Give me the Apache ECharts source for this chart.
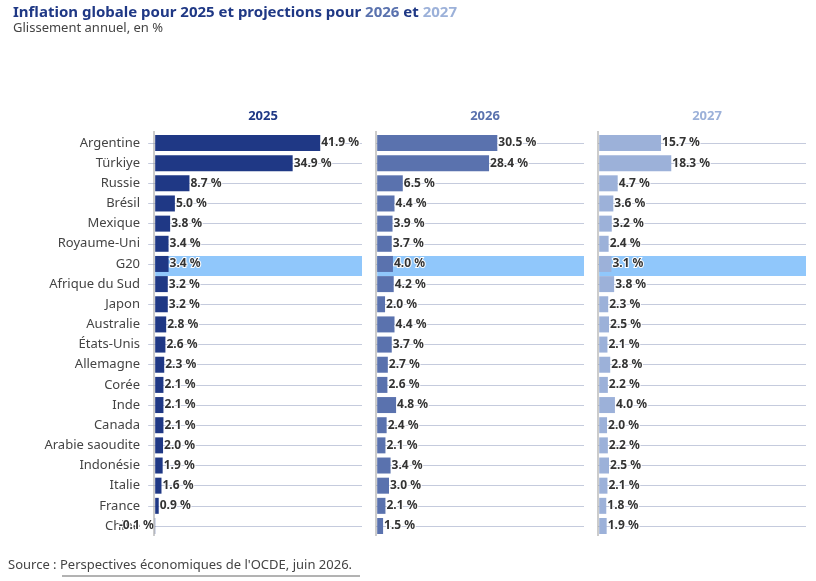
<!DOCTYPE html>
<html lang="fr">
<head>
<meta charset="UTF-8">
<title>Inflation globale</title>
<script src="https://cdn.jsdelivr.net/npm/echarts@6/dist/echarts.min.js"></script>
</head>
<body style="margin:0">
<div id="main" style="width:816px;height:581px"></div>
<script>
var countries = ['Argentine','Türkiye','Russie','Brésil','Mexique','Royaume-Uni','G20','Afrique du Sud','Japon','Australie','États-Unis','Allemagne','Corée','Inde','Canada','Arabie saoudite','Indonésie','Italie','France','Chine'];
var years = ['2025','2026','2027'];
var v2025 = [41.9,34.9,8.7,5.0,3.8,3.4,3.4,3.2,3.2,2.8,2.6,2.3,2.1,2.1,2.1,2.0,1.9,1.6,0.9,-0.1];
var v2026 = [30.5,28.4,6.5,4.4,3.9,3.7,4.0,4.2,2.0,4.4,3.7,2.7,2.6,4.8,2.4,2.1,3.4,3.0,2.1,1.5];
var v2027 = [15.7,18.3,4.7,3.6,3.2,2.4,3.1,3.8,2.3,2.5,2.1,2.8,2.2,4.0,2.0,2.2,2.5,2.1,1.8,1.9];
var colors = ['#1f3885','#5a72ae','#9cb1d9'];
var values = [v2025, v2026, v2027];
var highlight = 'G20';
var xMax = 52.5, xMin = -0.3;

var chart = echarts.init(document.getElementById('main'));
var font = 'Noto Sans';
var lefts = [154, 376, 598];
var grids = [], xAxes = [], yAxes = [], series = [], titles = [];
for (var i = 0; i < 3; i++) {
  grids.push({left: lefts[i], width: 208, top: 143, bottom: 55});
  xAxes.push({type: 'value', gridIndex: i, min: xMin, max: xMax, show: false});
  yAxes.push({
    type: 'category', gridIndex: i, data: countries, inverse: true, boundaryGap: false,
    axisLine: {show: false},
    axisTick: {show: i === 0, length: 7, lineStyle: {color: '#c5cbdd'}},
    axisLabel: {show: i === 0, color: '#444', fontFamily: font, fontSize: 13, margin: 14},
    splitLine: {show: true, lineStyle: {color: '#c5cbdd'}}
  });
  titles.push({text: years[i], left: lefts[i] + 104, top: 105, textAlign: 'center',
    textStyle: {color: colors[i], fontFamily: font, fontSize: 13, fontWeight: 'bold'}});
  series.push({
    type: 'bar', xAxisIndex: i, yAxisIndex: i, barWidth: 20, silent: true,
    itemStyle: {color: '#90c7fb'},
    data: countries.map(function (c) { return c === highlight ? xMax - xMin : '-'; }),
    encode: {}, z: 1
  });
  series.push({
    type: 'bar', xAxisIndex: i, yAxisIndex: i, barWidth: 16, barGap: '-100%', z: 3,
    itemStyle: {color: colors[i]},
    label: {
      show: true, position: 'right', distance: 1, fontFamily: font, fontSize: 12,
      fontWeight: 'bold', color: '#333', textBorderColor: '#fff', textBorderWidth: 2,
      formatter: function (p) { return p.value.toFixed(1) + ' %'; }
    },
    data: values[i].map(function (v) {
      return v < 0 ? {value: v, label: {position: 'left'}} : v;
    })
  });
}
// highlight band starts at axis zero, extend from min
series.forEach(function (s) { if (s.barWidth === 20) { s.data = s.data.map(function (d) { return d === '-' ? '-' : xMax; }); } });

titles.unshift({
  text: '{a|Inflation globale pour }{b|2025}{a| et projections pour }{c|2026}{a| et }{d|2027}',
  subtext: 'Glissement annuel, en %', left: 8, top: 0, itemGap: 2,
  textStyle: {fontFamily: font, fontSize: 15, fontWeight: 'bold',
    rich: {
      a: {color: '#1f3885', fontFamily: font, fontSize: 15, fontWeight: 'bold'},
      b: {color: colors[0], fontFamily: font, fontSize: 15, fontWeight: 'bold'},
      c: {color: colors[1], fontFamily: font, fontSize: 15, fontWeight: 'bold'},
      d: {color: colors[2], fontFamily: font, fontSize: 15, fontWeight: 'bold'}
    }},
  subtextStyle: {color: '#444', fontFamily: font, fontSize: 13}
});

chart.setOption({
  animation: false,
  title: titles,
  grid: grids,
  xAxis: xAxes,
  yAxis: yAxes,
  series: series,
  graphic: [
    {type: 'line', shape: {x1: 154, y1: 131, x2: 154, y2: 536}, style: {stroke: '#999', lineWidth: 1}, z: 10},
    {type: 'line', shape: {x1: 376, y1: 131, x2: 376, y2: 536}, style: {stroke: '#999', lineWidth: 1}, z: 10},
    {type: 'line', shape: {x1: 598, y1: 131, x2: 598, y2: 536}, style: {stroke: '#999', lineWidth: 1}, z: 10},
    {type: 'text', left: 8, top: 559, style: {
      text: 'Source : {u|Perspectives économiques de l\'OCDE, juin 2026.}',
      fontFamily: font, fontSize: 13, fill: '#444',
      rich: {u: {fontFamily: font, fontSize: 13, color: '#444'}}}},
    {type: 'line', shape: {x1: 62, y1: 576, x2: 360, y2: 576}, style: {stroke: '#666', lineWidth: 1}}
  ]
});
</script>
</body>
</html>
